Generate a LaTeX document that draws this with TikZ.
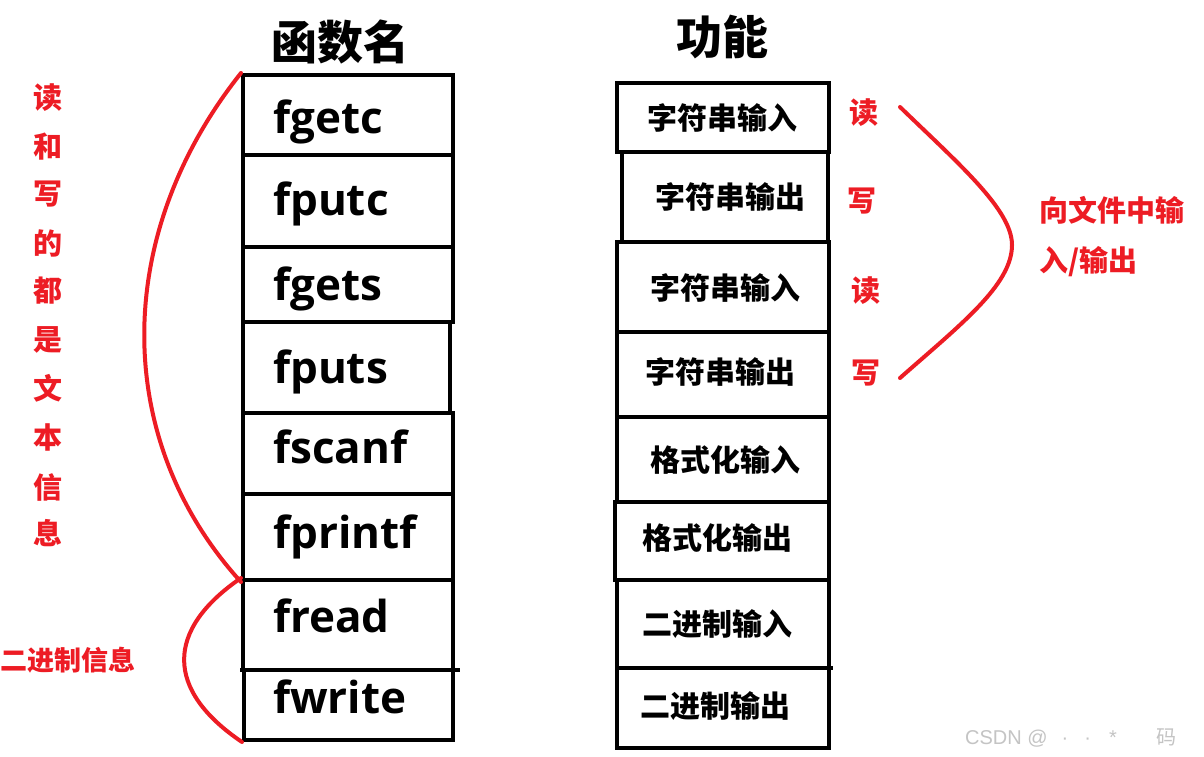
\documentclass[tikz,border=0pt]{standalone}
\usepackage{fontspec}
\usetikzlibrary{fit}
\newfontfamily\cjk{Noto Sans CJK SC}
\newfontfamily\lat{Open Sans}
\newfontfamily\wm{Liberation Sans}
\definecolor{pred}{HTML}{ED1C24}
\definecolor{wmgray}{HTML}{C4C4C4}
\tikzset{
  box/.style={draw=black, line width=4pt, inner sep=0pt, miter limit=10},
  fname/.style={font=\lat\bfseries\fontsize{44}{44}\selectfont, inner sep=0pt, anchor=base west},
  func/.style={font=\cjk\bfseries\fontsize{30}{30}\selectfont, inner sep=0pt},
  title/.style={font=\cjk\bfseries\fontsize{46}{46}\selectfont, inner sep=0pt},
  rlabel/.style={font=\cjk\bfseries\fontsize{29}{29}\selectfont, text=pred, inner sep=0pt},
  brace/.style={draw=pred, line width=4pt, line cap=round}
}
\begin{document}
\begin{tikzpicture}[x=1pt,y=-1pt]
\useasboundingbox[fill=white] (0,0) rectangle (1204,757);
% titles
\node[title] (t1) at (340,42) {函数名};
\node[title] (t2) at (722,37) {功能};
% left boxes
\node[box, fit={(243,75) (453,155)}] (L1) {};
\node[box, fit={(243,155) (453,247)}] (L2) {};
\node[box, fit={(243,247) (453,322)}] (L3) {};
\node[box, fit={(243,322) (450,413)}] (L4) {};
\node[box, fit={(243,413) (453,494)}] (L5) {};
\node[box, fit={(243,494) (453,580)}] (L6) {};
\node[box, fit={(243,580) (453,670)}] (L7) {};
\node[box, fit={(244,670) (453,740)}] (L8) {};
\coordinate (d1a) at (240,670);
\coordinate (d1b) at (460,670);
\draw[line width=4pt] (d1a) -- (d1b);
% function names
\node[fname] (n1) at (273,133) {fgetc};
\node[fname] (n2) at (273,215) {fputc};
\node[fname] (n3) at (273,300) {fgets};
\node[fname] (n4) at (273,383) {fputs};
\node[fname] (n5) at (273,463) {fscanf};
\node[fname] (n6) at (273,548) {fprintf};
\node[fname] (n7) at (273,632) {fread};
\node[fname] (n8) at (273,713) {fwrite};
% right boxes
\node[box, fit={(617,83) (829,152)}] (R1) {};
\node[box, fit={(622,152) (828,242)}] (R2) {};
\node[box, fit={(617,242) (829,332)}] (R3) {};
\node[box, fit={(617,332) (829,417)}] (R4) {};
\node[box, fit={(617,417) (829,502)}] (R5) {};
\node[box, fit={(615,502) (829,580)}] (R6) {};
\node[box, fit={(617,580) (829,668)}] (R7) {};
\node[box, fit={(617,668) (829,748)}] (R8) {};
\coordinate (d2a) at (617,668);
\coordinate (d2b) at (833,668);
\draw[line width=4pt] (d2a) -- (d2b);
% functions
\node[func] (f1) at (722,118) {字符串输入};
\node[func] (f2) at (730,197) {字符串输出};
\node[func] (f3) at (725,288) {字符串输入};
\node[func] (f4) at (720,372) {字符串输出};
\node[func] (f5) at (725,460) {格式化输入};
\node[func] (f6) at (717,538) {格式化输出};
\node[func] (f7) at (717,624) {二进制输入};
\node[func] (f8) at (715,706) {二进制输出};
% right labels
\node[rlabel] (r1) at (864,113) {读};
\node[rlabel] (r2) at (862,201) {写};
\node[rlabel] (r3) at (866,291) {读};
\node[rlabel] (r4) at (866,373) {写};
\node[rlabel, anchor=west] (r5) at (1039,210) {向文件中输};
\node[rlabel, anchor=west] (r6) at (1039,262) {入/输出};
\coordinate (c1) at (900,107);
\coordinate (c2) at (900,378);
\coordinate (capex) at (1012,245);
\draw[brace] (c1) .. controls (960,165) and (1012,210) .. (capex)
  .. controls (1012,285) and (960,325) .. (c2);
% left labels
\foreach \ch/\yy [count=\i] in {读/98,和/147,写/194,的/243,都/291,是/340,文/388,本/437,信/487,息/533}{
  \node[rlabel] (v\i) at (48,\yy) {\ch};
}
\node[rlabel, anchor=west, font=\cjk\bfseries\fontsize{27}{27}\selectfont] (bin) at (0,660) {二进制信息};
\draw[brace] (L1.north west) .. controls (112,235) and (112,440) .. (L6.south west);
\draw[brace] (L7.north west) .. controls (165,630) and (165,690) .. (L8.south west);
% watermark
\node[font=\wm\fontsize{20}{20}\selectfont, text=wmgray, anchor=west, inner sep=0pt] (wm) at (965,738) {CSDN @\hspace{14pt}·\hspace{16pt}·\hspace{18pt}*\hspace{40pt}{\cjk 码}};
\end{tikzpicture}
\end{document}
